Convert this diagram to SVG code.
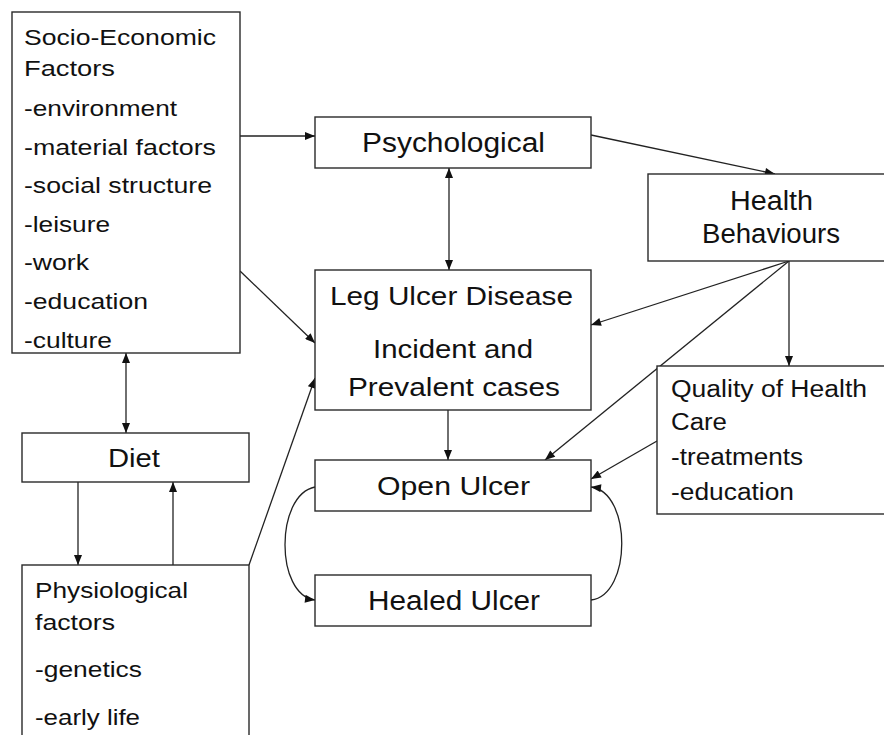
<svg xmlns="http://www.w3.org/2000/svg" width="884" height="735" viewBox="0 0 884 735">
<defs>
<style>
.box{fill:#fff;stroke:#2a2a2a;stroke-width:1.4}
.t{font-family:"Liberation Sans",Arial,sans-serif;fill:#111}
.c{fill:none;stroke:#222;stroke-width:1.3}
</style>
<marker id="ah" viewBox="0 0 10 8" refX="10" refY="4" markerWidth="11" markerHeight="8" markerUnits="userSpaceOnUse" orient="auto">
<path d="M0,0 L10,4 L0,8 Z" fill="#111"/>
</marker>
<marker id="as" viewBox="0 0 10 8" refX="0" refY="4" markerWidth="11" markerHeight="8" markerUnits="userSpaceOnUse" orient="auto">
<path d="M10,0 L0,4 L10,8 Z" fill="#111"/>
</marker>
</defs>
<rect width="884" height="735" fill="#fff"/>

<g id="connectors">
<path class="c" d="M240,136 L315,136" marker-end="url(#ah)"/>
<path class="c" d="M240,271 L315,343" marker-end="url(#ah)"/>
<path class="c" d="M126,353 L126,433" marker-start="url(#as)" marker-end="url(#ah)"/>
<path class="c" d="M78,482 L78,565" marker-end="url(#ah)"/>
<path class="c" d="M173,565 L173,482" marker-end="url(#ah)"/>
<path class="c" d="M249,565 L315,378" marker-end="url(#ah)"/>
<path class="c" d="M449,168 L449,270" marker-start="url(#as)" marker-end="url(#ah)"/>
<path class="c" d="M591,135 L775,174" marker-end="url(#ah)"/>
<path class="c" d="M789,261 L591,325" marker-end="url(#ah)"/>
<path class="c" d="M789,261 L545,460" marker-end="url(#ah)"/>
<path class="c" d="M789,261 L789,366" marker-end="url(#ah)"/>
<path class="c" d="M657,441 L591,479" marker-end="url(#ah)"/>
<path class="c" d="M448,410 L448,460" marker-end="url(#ah)"/>
<path class="c" d="M315,487 C275,495 275,595 315,600" marker-end="url(#ah)"/>
<path class="c" d="M591,600 C632,595 632,492 591,487" marker-end="url(#ah)"/>
</g>

<g id="socio">
<rect class="box" x="12" y="12" width="228" height="341"/>
<g class="t" font-size="22">
<text x="24" y="45" textLength="192" lengthAdjust="spacingAndGlyphs">Socio-Economic</text>
<text x="24" y="76" textLength="91" lengthAdjust="spacingAndGlyphs">Factors</text>
<text x="24" y="116" textLength="153" lengthAdjust="spacingAndGlyphs">-environment</text>
<text x="24" y="155" textLength="192" lengthAdjust="spacingAndGlyphs">-material factors</text>
<text x="24" y="193" textLength="188" lengthAdjust="spacingAndGlyphs">-social structure</text>
<text x="24" y="232" textLength="86" lengthAdjust="spacingAndGlyphs">-leisure</text>
<text x="24" y="270" textLength="65" lengthAdjust="spacingAndGlyphs">-work</text>
<text x="24" y="309" textLength="124" lengthAdjust="spacingAndGlyphs">-education</text>
<text x="24" y="348" textLength="88" lengthAdjust="spacingAndGlyphs">-culture</text>
</g>
</g>

<g id="psychological">
<rect class="box" x="315" y="117" width="276" height="51"/>
<text class="t" font-size="27" x="362" y="152" textLength="183" lengthAdjust="spacingAndGlyphs">Psychological</text>
</g>

<g id="legulcer">
<rect class="box" x="315" y="270" width="276" height="140"/>
<g class="t" font-size="25">
<text x="330" y="305" textLength="243" lengthAdjust="spacingAndGlyphs">Leg Ulcer Disease</text>
<text x="373" y="358" textLength="160" lengthAdjust="spacingAndGlyphs">Incident and</text>
<text x="348" y="396" textLength="212" lengthAdjust="spacingAndGlyphs">Prevalent cases</text>
</g>
</g>

<g id="openulcer">
<rect class="box" x="315" y="460" width="276" height="51"/>
<text class="t" font-size="26" x="377" y="495" textLength="153" lengthAdjust="spacingAndGlyphs">Open Ulcer</text>
</g>

<g id="healedulcer">
<rect class="box" x="315" y="575" width="276" height="51"/>
<text class="t" font-size="27" x="368" y="610" textLength="172" lengthAdjust="spacingAndGlyphs">Healed Ulcer</text>
</g>

<g id="healthbehaviours">
<rect class="box" x="648" y="174" width="250" height="87"/>
<g class="t" font-size="27">
<text x="730" y="210" textLength="83" lengthAdjust="spacingAndGlyphs">Health</text>
<text x="702" y="243" textLength="138" lengthAdjust="spacingAndGlyphs">Behaviours</text>
</g>
</g>

<g id="qualitycare">
<rect class="box" x="657" y="366" width="240" height="148"/>
<g class="t" font-size="23">
<text x="671" y="397" textLength="196" lengthAdjust="spacingAndGlyphs">Quality of Health</text>
<text x="671" y="430" textLength="56" lengthAdjust="spacingAndGlyphs">Care</text>
<text x="671" y="465" textLength="132" lengthAdjust="spacingAndGlyphs">-treatments</text>
<text x="671" y="500" textLength="123" lengthAdjust="spacingAndGlyphs">-education</text>
</g>
</g>

<g id="diet">
<rect class="box" x="22" y="433" width="227" height="49"/>
<text class="t" font-size="25" x="108" y="467" textLength="52" lengthAdjust="spacingAndGlyphs">Diet</text>
</g>

<g id="physiological">
<rect class="box" x="22" y="565" width="227" height="200"/>
<g class="t" font-size="22">
<text x="35" y="598" textLength="153" lengthAdjust="spacingAndGlyphs">Physiological</text>
<text x="35" y="630" textLength="80" lengthAdjust="spacingAndGlyphs">factors</text>
<text x="35" y="677" textLength="107" lengthAdjust="spacingAndGlyphs">-genetics</text>
<text x="35" y="725" textLength="105" lengthAdjust="spacingAndGlyphs">-early life</text>
</g>
</g>
</svg>
